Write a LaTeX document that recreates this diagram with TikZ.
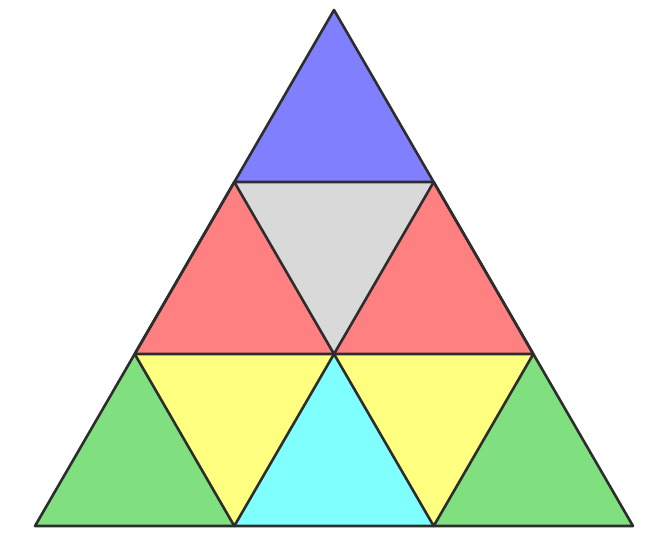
\documentclass[tikz,border=0pt]{standalone}
\definecolor{tblue}{RGB}{128,128,255}
\definecolor{tred}{RGB}{255,128,128}
\definecolor{tyellow}{RGB}{255,255,128}
\definecolor{tgreen}{RGB}{128,224,128}
\definecolor{tcyan}{RGB}{128,255,255}
\definecolor{tgray}{RGB}{217,217,217}
\definecolor{edge}{RGB}{45,45,45}
\begin{document}
\begin{tikzpicture}[x=1pt,y=-1pt,
  tri/.style={draw=edge,line width=2.6pt,line join=round}]
\useasboundingbox (0,0) rectangle (652,550);
\coordinate (a0) at (334,10);
\coordinate (b0) at (234.3,182);
\coordinate (b1) at (433.7,182);
\coordinate (c0) at (134.7,354);
\coordinate (c1) at (334,354);
\coordinate (c2) at (533.3,354);
\coordinate (d0) at (35,526);
\coordinate (d1) at (234.3,526);
\coordinate (d2) at (433.7,526);
\coordinate (d3) at (633,526);
% fills
\fill[tblue] (a0) -- (b0) -- (b1) -- cycle;
\fill[tgray] (b0) -- (b1) -- (c1) -- cycle;
\fill[tred] (b0) -- (c0) -- (c1) -- cycle;
\fill[tred] (b1) -- (c1) -- (c2) -- cycle;
\fill[tgreen] (c0) -- (d0) -- (d1) -- cycle;
\fill[tyellow] (c0) -- (c1) -- (d1) -- cycle;
\fill[tcyan] (c1) -- (d1) -- (d2) -- cycle;
\fill[tyellow] (c1) -- (c2) -- (d2) -- cycle;
\fill[tgreen] (c2) -- (d2) -- (d3) -- cycle;
% edges
\draw[tri] (a0) -- (d0) -- (d3) -- cycle;
\draw[tri] (b0) -- (b1) -- (c2) -- (c0) -- cycle;
\draw[tri] (b0) -- (c1) -- (b1);
\draw[tri] (c0) -- (d1) -- (c1) -- (d2) -- (c2);
\end{tikzpicture}
\end{document}
